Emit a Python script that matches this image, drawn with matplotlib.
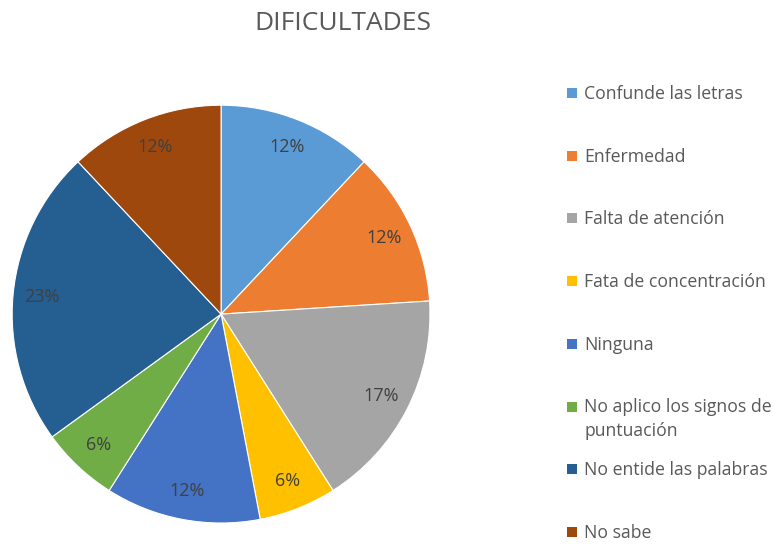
import matplotlib
matplotlib.use("Agg")
import matplotlib.pyplot as plt
from matplotlib.patches import Rectangle

plt.rcParams['font.family'] = ['Open Sans', 'DejaVu Sans']

# datos
categorias = ["Confunde las letras", "Enfermedad", "Falta de atención",
              "Fata de concentración", "Ninguna",
              "No aplico los signos de\npuntuación", "No entide las palabras",
              "No sabe"]
porcentajes = [12, 12, 17, 6, 12, 6, 23, 12]
colores = ["#5B9BD5", "#ED7D31", "#A5A5A5", "#FFC000",
           "#4472C4", "#70AD47", "#255E91", "#9E480E"]

fig = plt.figure(figsize=(7.73, 5.44), dpi=100)
ax = fig.add_axes([0.0155, 0.0386, 0.541, 0.768])

wedges, textos, autotextos = ax.pie(
    porcentajes, colors=colores, startangle=90, counterclock=False,
    autopct=lambda p: f"{p:.0f}%", pctdistance=0.86,
    wedgeprops=dict(edgecolor="white", linewidth=0.8),
    textprops=dict(color="#404040", fontsize=13))
ax.set_xlim(-1, 1)
ax.set_ylim(-1, 1)
ax.set_aspect("equal")

fig.text(0.444, 1 - 23 / 544, "DIFICULTADES", ha="center", va="center",
         fontsize=19, color="#595959")

# leyenda a mano (Excel reparte las entradas por igual)
y0 = 1 - 93 / 544
paso = 62.7 / 544
for i, (cat, col) in enumerate(zip(categorias, colores)):
    y = y0 - i * paso
    fig.patches.append(Rectangle((567 / 773, y - 5 / 544), 10 / 773, 10 / 544,
                                 transform=fig.transFigure, facecolor=col,
                                 edgecolor="none"))
    fig.text(584 / 773, y + 8 / 544, cat, ha="left", va="top",
             fontsize=12.7, color="#595959", linespacing=1.4)

fig.savefig("out.png", dpi=100)
